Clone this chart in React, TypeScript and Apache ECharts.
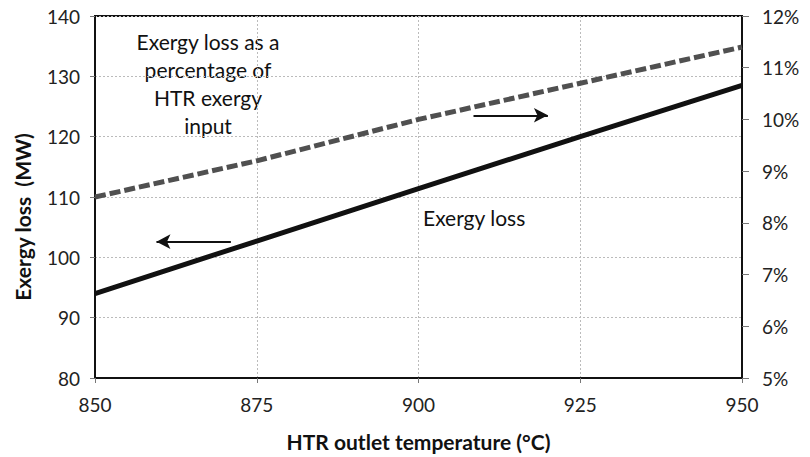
import React, { useEffect, useRef } from "react";
import * as echarts from "echarts";

const temperatures = [850, 875, 900, 925, 950];
const exergyLossMW = [94.0, 102.7, 111.4, 120.0, 128.5];
const exergyLossPct = [8.5, 9.2, 10.0, 10.7, 11.4];
const xTicks = [850, 875, 900, 925, 950];
const leftTicks = [80, 90, 100, 110, 120, 130, 140];
const rightTicks = [5, 6, 7, 8, 9, 10, 11, 12];

const FONT = "Lato";

export default function App() {
  const ref = useRef<HTMLDivElement>(null);
  useEffect(() => {
    if (!ref.current) return;
    const chart = echarts.init(ref.current, null, { renderer: "svg" });
    const solid = temperatures.map((t, i) => [t, exergyLossMW[i]]);
    const dashed = temperatures.map((t, i) => [t, exergyLossPct[i]]);
    chart.setOption({
      animation: false,
      backgroundColor: "#ffffff",
      textStyle: { fontFamily: FONT },
      grid: {
        left: 95,
        right: 68,
        top: 16,
        bottom: 77,
        show: true,
        borderColor: "#111",
        borderWidth: 2,
        backgroundColor: "transparent",
      },
      xAxis: {
        type: "value",
        min: xTicks[0],
        max: xTicks[xTicks.length - 1],
        interval: 25,
        name: "HTR outlet temperature (°C)",
        nameLocation: "middle",
        nameGap: 53,
        nameTextStyle: { fontFamily: FONT, fontSize: 21, fontWeight: "bold", color: "#111" },
        axisLine: { show: true, lineStyle: { color: "#111", width: 2 } },
        axisTick: { show: true, length: 5, lineStyle: { color: "#777" } },
        axisLabel: { fontFamily: FONT, fontSize: 19, color: "#222", margin: 17 },
        splitLine: { show: true, lineStyle: { color: "#bbb", type: [2, 2], width: 1 } },
      },
      yAxis: [
        {
          type: "value",
          min: leftTicks[0],
          max: leftTicks[leftTicks.length - 1],
          interval: 10,
          axisLine: { show: true, lineStyle: { color: "#111", width: 2 } },
          axisTick: { show: true, length: 5, lineStyle: { color: "#777" } },
          axisLabel: { fontFamily: FONT, fontSize: 19, color: "#222", margin: 15 },
          splitLine: { show: true, lineStyle: { color: "#bbb", type: [2, 2], width: 1 } },
        },
        {
          type: "value",
          min: rightTicks[0],
          max: rightTicks[rightTicks.length - 1],
          interval: 1,
          position: "right",
          axisLine: { show: true, lineStyle: { color: "#111", width: 2 } },
          axisTick: { show: true, length: 7, lineStyle: { color: "#777" } },
          axisLabel: { fontFamily: FONT, fontSize: 19, color: "#222", margin: 20, formatter: "{value}%" },
          splitLine: { show: false },
        },
      ],
      series: [
        {
          type: "line",
          yAxisIndex: 0,
          data: solid,
          symbol: "none",
          lineStyle: { color: "#111", width: 5 },
          markLine: {
            silent: true,
            symbol: ["none", "arrow"],
            symbolSize: [11, 14],
            label: { show: false },
            lineStyle: { color: "#111", width: 2, type: "solid" },
            data: [[{ coord: [871, 102.6] }, { coord: [859.5, 102.6] }]],
          },
        },
        {
          type: "line",
          yAxisIndex: 1,
          data: dashed,
          symbol: "none",
          lineStyle: { color: "#505050", width: 5, type: [11, 4] },
          markLine: {
            silent: true,
            symbol: ["none", "arrow"],
            symbolSize: [11, 14],
            label: { show: false },
            lineStyle: { color: "#111", width: 2, type: "solid" },
            data: [[{ coord: [908.5, 10.08] }, { coord: [920, 10.08] }]],
          },
        },
      ],
      graphic: [
        {
          type: "text",
          x: 22,
          y: 217,
          rotation: Math.PI / 2,
          style: {
            text: "Exergy loss  (MW)",
            textAlign: "center",
            textVerticalAlign: "middle",
            fontFamily: FONT,
            fontSize: 21,
            fontWeight: "bold",
            fill: "#111",
          },
        },
        {
          type: "text",
          x: 208,
          y: 27,
          style: {
            text: "Exergy loss as a\npercentage of\nHTR exergy\ninput",
            textAlign: "center",
            fontFamily: FONT,
            fontSize: 21,
            lineHeight: 28,
            fill: "#111",
          },
        },
        {
          type: "text",
          left: 423,
          top: 207,
          style: {
            text: "Exergy loss",
            fontFamily: FONT,
            fontSize: 21,
            fill: "#111",
          },
        },
      ],
    });
    return () => chart.dispose();
  }, []);
  return (
    <div
      ref={ref}
      style={{ position: "fixed", left: 0, top: 0, width: 810, height: 457 }}
    />
  );
}
